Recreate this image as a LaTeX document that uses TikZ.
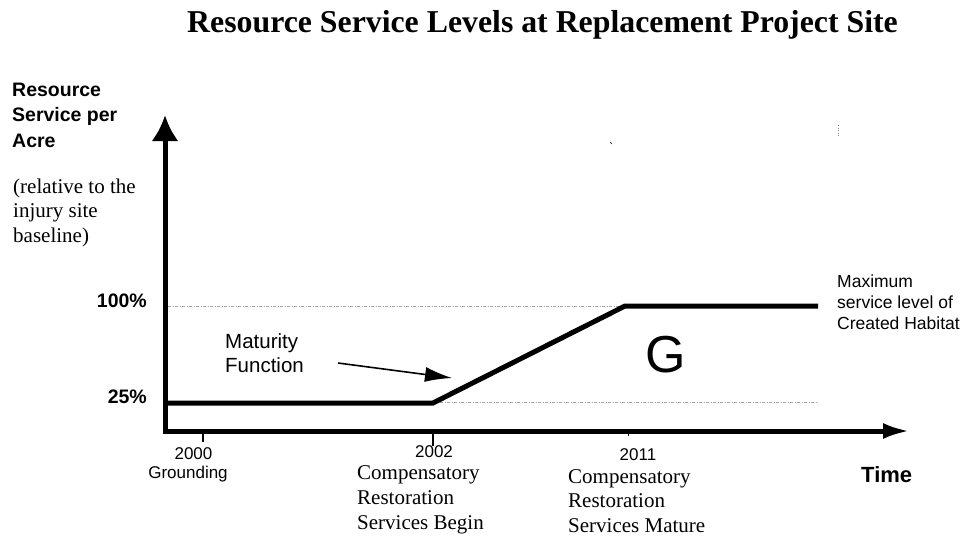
\documentclass[tikz,border=0pt]{standalone}
\usepackage{fontspec}
\setmainfont{Liberation Serif}
\setsansfont{Liberation Sans}
\usetikzlibrary{arrows.meta}

\tikzset{
  axis/.style={line width=5pt},
  guide/.style={gray!70, line width=0.8pt, dash pattern=on 3pt off 1.5pt on 1pt off 1.5pt},
  tickmark/.style={line width=2pt},
  yearlabel/.style={font=\sffamily\fontsize{17}{21}\selectfont, inner sep=0pt, anchor=base},
  serifnote/.style={font=\fontsize{21}{25}\selectfont, inner sep=0pt, align=left, anchor=base west},
  boldlabel/.style={font=\sffamily\bfseries\fontsize{19.5}{25.5}\selectfont, inner sep=0pt},
}

\begin{document}
\begin{tikzpicture}[x=1pt, y=-1pt]
\useasboundingbox (0,0) rectangle (971,538);

% title
\node[anchor=base, inner sep=0pt, font=\bfseries\fontsize{31.8}{35}\selectfont] (title) at (542.5,32)
  {Resource Service Levels at Replacement Project Site};

% axis labels (multi-line nodes sit on their last baseline)
\node[boldlabel, align=left, anchor=base west] (ylabel) at (12,147) {Resource\\Service per\\Acre};
\node[serifnote, font=\fontsize{21}{24.5}\selectfont] (ynote) at (13,242) {(relative to the\\injury site\\baseline)};
\node[boldlabel, font=\sffamily\bfseries\fontsize{22}{26}\selectfont, anchor=base west] (timelabel) at (861,482) {Time};
\node[boldlabel, anchor=base east] (full) at (147,307) {100\%};
\node[boldlabel, anchor=base east] (quarter) at (147,403) {25\%};

% axes
\coordinate (origin) at (165,431);
\coordinate (ytop) at (165,115);
\coordinate (xend) at (910,431);
\draw[axis, {Latex[length=26pt,width=27pt]}-{Latex[length=27pt,width=16pt]}] (ytop) -- (origin) -- (xend);

% guide lines
\coordinate (g100a) at (168,306);
\coordinate (g100b) at (625,306);
\coordinate (g25a) at (433,402);
\coordinate (g25b) at (818,402);
\draw[guide] (g100a) -- (g100b);
\draw[guide] (g25a) -- (g25b);

% service curve
\coordinate (s0) at (168,403);
\coordinate (s1) at (433,403);
\coordinate (s2) at (625,306);
\coordinate (s3) at (818,306);
\draw[axis] (s0) -- (s1) -- (s2) -- (s3);

% ticks
\draw[tickmark] (203,433) -- (203,442);
\draw[tickmark, line width=2.5pt] (433,433) -- (433,446);
\draw[line width=0.6pt] (628,433) -- (628,436);

% years
\node[yearlabel] (y2000) at (193.5,459) {2000};
\node[yearlabel] (grounding) at (188,478) {Grounding};
\node[yearlabel] (y2002) at (434,457) {2002};
\node[serifnote] (begin) at (357,529) {Compensatory\\Restoration\\Services Begin};
\node[yearlabel] (y2011) at (638,460) {2011};
\node[serifnote, font=\fontsize{21}{24.5}\selectfont] (mature) at (568,532) {Compensatory\\Restoration\\Services Mature};

% maturity
\node[font=\sffamily\fontsize{20.5}{24}\selectfont, inner sep=0pt, align=left, anchor=base west] (maturity) at (225,372) {Maturity\\Function};
\coordinate (mstart) at (338,363);
\coordinate (mtip) at (452,378);
\draw[line width=1.6pt, -{Latex[length=27pt,width=15pt]}] (mstart) -- (mtip);

\node[font=\sffamily\fontsize{52}{56}\selectfont, inner sep=0pt, anchor=base west] (gain) at (645,372) {G};

\node[font=\sffamily\fontsize{17.5}{21}\selectfont, inner sep=0pt, align=left, anchor=base west] (maxlevel) at (837,329)
  {Maximum\\service level of\\Created Habitat};

% stray marks
\draw[line width=0.6pt] (610,142) -- (612,144);
\draw[gray, line width=0.6pt, dotted] (838,125) -- (838,136);
\end{tikzpicture}
\end{document}
